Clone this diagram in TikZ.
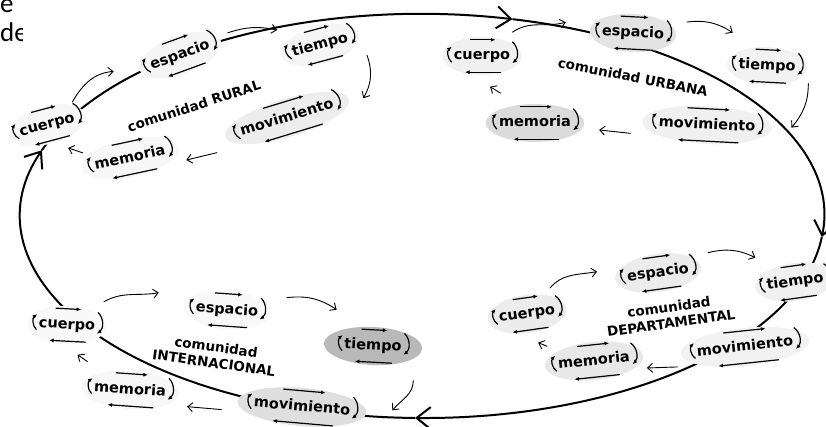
\documentclass[tikz,border=0pt]{standalone}
\usepackage{fontspec}
\setmainfont{DejaVu Sans}
\newfontfamily\docfont{Carlito}
\usetikzlibrary{arrows.meta,calc,shapes.geometric,backgrounds}

\newcommand{\wordfont}{\fontsize{14.5}{16}\selectfont\bfseries}
% one element: word, halo behind it and its four small arrows
\newcommand{\ciclo}[6][0pt]{%
  \node[word, rotate=#4] (#2) at (#3) {#5};
  \begin{scope}[on background layer]
    \path[fill=#6, rotate around={#4:(#2.center)}] let \p1=($(#2.east)-(#2.west)$), \n1={veclen(\x1,\y1)} in
      (#2.center) ellipse[x radius=0.62*\n1+2pt+#1, y radius=19pt];
  \end{scope}
  \draw[tick] ($(#2.north west)!.3!(#2.north east)!8pt!90:(#2.north east)$) -- ($(#2.north west)!.72!(#2.north east)!8pt!90:(#2.north east)$);
  \draw[tick] ($(#2.south west)!.82!(#2.south east)!8pt!-90:(#2.south east)$) -- ($(#2.south west)!.22!(#2.south east)!8pt!-90:(#2.south east)$);
  \draw[tick] ($(#2.north east)!-6pt!(#2.south east)$) to[bend left=50] ($(#2.south east)!1pt!(#2.north east)$);
  \draw[tick] ($(#2.south west)!2pt!(#2.north west)$) to[bend left=50] ($(#2.north west)!-1pt!(#2.south west)$);
}

\begin{document}
\begin{tikzpicture}[x=1pt, y=1pt, >=latex,
  word/.style={font=\wordfont, text height=11pt, text depth=3pt, inner xsep=2pt, inner ysep=1pt},
  tick/.style={line width=1.2pt, -{Latex[length=4.5pt,width=4pt]}},
  link/.style={line width=0.9pt, -{Straight Barb[length=5pt,width=9pt]}},
  ring/.style={line width=2pt, -{Straight Barb[length=14pt,width=22pt]}},
  lab/.style={font=\fontsize{13.5}{16}\selectfont\bfseries, align=center}]
\useasboundingbox (0,0) rectangle (826,427);

% bits of the page text
\begin{scope}
  \clip (0,380) rectangle (22,427);
  \node[anchor=base west, inner sep=0pt, font=\docfont\fontsize{27}{30}\selectfont] (txt1) at (0,414) {e};
  \node[anchor=base west, inner sep=0pt, font=\docfont\fontsize{27}{30}\selectfont] (txt2) at (0,385) {de};
\end{scope}

% the big loop
\coordinate (hub) at (422,211);
\begin{scope}[on background layer]
  \draw[ring] ([shift={(161:402 and 202)}]hub) arc[start angle=161, end angle=77, x radius=402, y radius=202];
  \draw[ring] ([shift={(77:402 and 202)}]hub) arc[start angle=77, end angle=-6, x radius=402, y radius=202];
  \draw[ring] ([shift={(-6:402 and 202)}]hub) arc[start angle=-6, end angle=-91, x radius=402, y radius=202];
  \draw[ring] ([shift={(-91:402 and 202)}]hub) arc[start angle=-91, end angle=-199, x radius=402, y radius=202];
\end{scope}

% comunidad RURAL
\ciclo{r-cu}{47,302}{15}{cuerpo}{gray!6}
\ciclo{r-es}{180,372}{20}{espacio}{gray!8}
\ciclo{r-ti}{320,382}{15}{tiempo}{gray!8}
\ciclo{r-mo}{287,309}{17}{movimiento}{gray!14}
\ciclo{r-me}{130,269}{12}{memoria}{gray!6}
\node[lab, rotate=18] (r-lab) at (194,321) {comunidad RURAL};
\draw[link] ([xshift=-2pt,yshift=7pt]r-cu.north east) to[out=60,in=185] ([xshift=-35pt,yshift=-5pt]r-es.west);
\draw[link] ([xshift=19pt,yshift=3pt]r-es.north east) to[bend left=15] ([xshift=-11pt,yshift=15pt]r-ti.north west);
\draw[link] ([xshift=15pt,yshift=-10pt]r-ti.south east) to[out=-70,in=60] ([xshift=28pt,yshift=5pt]r-mo.east);
\draw[link] ([xshift=-24pt,yshift=-12pt]r-mo.south west) -- ([xshift=19pt,yshift=-10pt]r-me.east);
\draw[link] ([xshift=-8pt,yshift=5pt]r-me.north west) -- ([xshift=19pt,yshift=-15pt]r-cu.south);

% comunidad URBANA
\ciclo{u-cu}{482,371}{0}{cuerpo}{gray!12}
\ciclo{u-es}{633,394}{-3}{espacio}{gray!22}
\ciclo{u-ti}{767,361}{-3}{tiempo}{gray!10}
\ciclo{u-mo}{707,302}{-3}{movimiento}{gray!12}
\ciclo{u-me}{535,304}{0}{memoria}{gray!28}
\node[lab, rotate=-11] (u-lab) at (633,350) {comunidad URBANA};
\draw[link] ([yshift=15.5pt]u-cu.north east) to[out=35,in=195] ([xshift=-34pt,yshift=9pt]u-es.west);
\draw[link] ([xshift=20pt,yshift=4.5pt]u-es.north east) to[bend left=20] ([xshift=-4pt,yshift=23.5pt]u-ti.north west);
\draw[link] ([xshift=11pt,yshift=-7.5pt]u-ti.south east) to[out=-90,in=50] ([xshift=34pt]u-mo.east);
\draw[link] ([xshift=-26pt,yshift=-11pt]u-mo.west) -- ([xshift=26pt,yshift=-7pt]u-me.east);
\draw[link] ([xshift=4pt,yshift=21.5pt]u-me.north west) -- ([xshift=8pt,yshift=-22.5pt]u-cu.south);

% comunidad DEPARTAMENTAL
\ciclo{d-cu}{527,113}{8}{cuerpo}{gray!15}
\ciclo{d-es}{658,154}{8}{espacio}{gray!15}
\ciclo{d-ti}{795,145}{8}{tiempo}{gray!12}
\ciclo{d-mo}{745,80}{6}{movimiento}{gray!10}
\ciclo{d-me}{594,66}{6}{memoria}{gray!18}
\node[lab, rotate=8] (d-lab) at (670,112) {comunidad\\DEPARTAMENTAL};
\draw[link] ([xshift=-6pt,yshift=13.5pt]d-cu.north east) to[out=50,in=190] ([xshift=-28pt,yshift=6pt]d-es.west);
\draw[link] ([xshift=18pt,yshift=7.5pt]d-es.north east) to[bend left=20] ([xshift=-8pt,yshift=20.5pt]d-ti.north west);
\draw[link] ([xshift=-18pt,yshift=-6.5pt]d-mo.south west) -- ([xshift=15pt,yshift=-11pt]d-me.east);
\draw[link] ([xshift=-8pt,yshift=10.5pt]d-me.north west) -- ([xshift=10pt,yshift=-20.5pt]d-cu.south);

% comunidad INTERNACIONAL
\ciclo{i-cu}{67,102}{-3}{cuerpo}{gray!5}
\ciclo{i-es}{227,117}{-4}{espacio}{gray!5}
\ciclo[9pt]{i-ti}{373,81}{-3}{tiempo}{gray!55}
\ciclo{i-mo}{302,20}{-5}{movimiento}{gray!25}
\ciclo{i-me}{130,37}{-4}{memoria}{gray!6}
\node[lab, rotate=-8] (i-lab) at (215,72) {comunidad\\INTERNACIONAL};
\draw[link] ([xshift=6pt,yshift=16.5pt]i-cu.north east) to[out=30,in=190] ([xshift=-35pt,yshift=15pt]i-es.west);
\draw[link] ([xshift=26pt,yshift=6.5pt]i-es.north east) to[bend left=20] ([xshift=-6pt,yshift=26.5pt]i-ti.north west);
\draw[link] ([xshift=10pt,yshift=-24.5pt]i-ti.south east) to[out=-90,in=50] ([xshift=40pt,yshift=1pt]i-mo.east);
\draw[link] ([xshift=-30pt,yshift=-7pt]i-mo.west) -- ([xshift=19pt,yshift=-14pt]i-me.east);
\draw[link] ([xshift=-5pt,yshift=17.5pt]i-me.north west) -- ([xshift=11pt,yshift=-21.5pt]i-cu.south);
\end{tikzpicture}
\end{document}
